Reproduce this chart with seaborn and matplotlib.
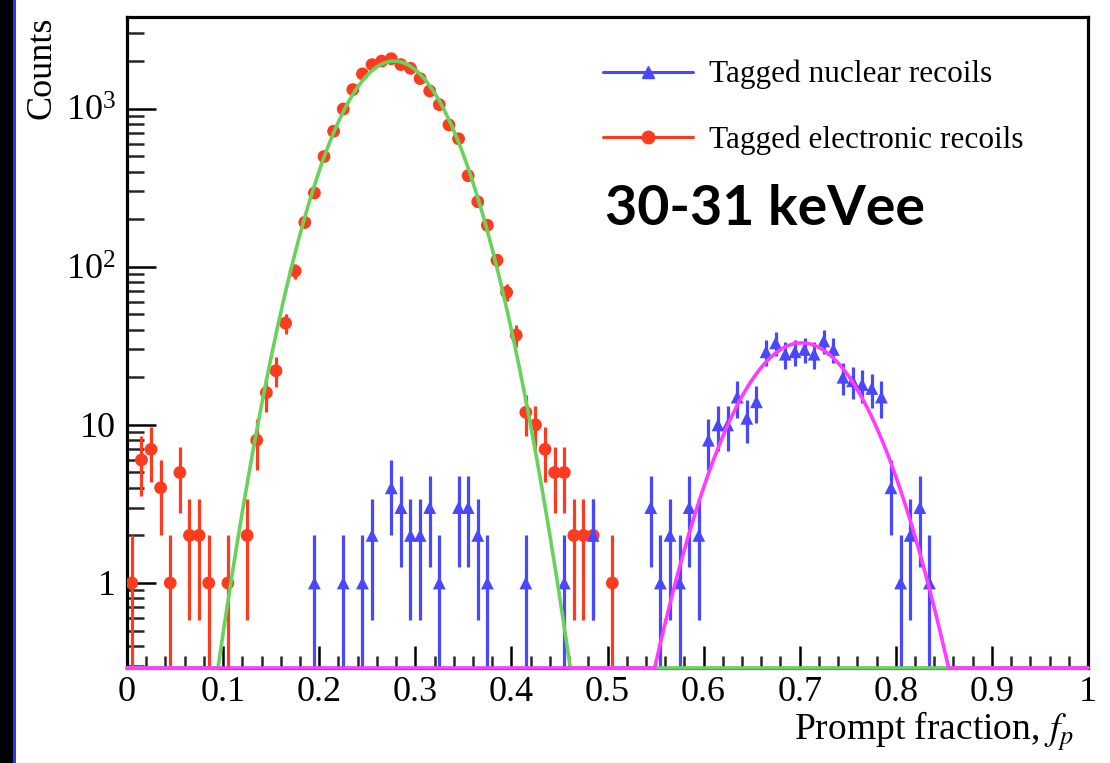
import numpy as np
import pandas as pd
import matplotlib
matplotlib.use("Agg")
import matplotlib.pyplot as plt
from matplotlib.lines import Line2D
from matplotlib.patches import Rectangle
from matplotlib.ticker import (FixedLocator, FixedFormatter, LogLocator,
                               NullFormatter, MultipleLocator)
import seaborn as sns

# Prompt-fraction histograms (bin width 0.01, empty bins left out)
er_fp = [0.005, 0.015, 0.025, 0.035, 0.045, 0.055, 0.065, 0.075, 0.085,
         0.105, 0.125, 0.135, 0.145, 0.155, 0.165, 0.175, 0.185, 0.195,
         0.205, 0.215, 0.225, 0.235, 0.245, 0.255, 0.265, 0.275, 0.285, 0.295,
         0.305, 0.315, 0.325, 0.335, 0.345, 0.355, 0.365, 0.375, 0.385, 0.395,
         0.405, 0.415, 0.425, 0.435, 0.445, 0.455, 0.465, 0.475, 0.485, 0.505]
er_counts = [1, 6, 7, 4, 1, 5, 2, 2, 1,
             1, 2, 8, 16, 22, 44, 94, 191, 293,
             498, 720, 995, 1320, 1660, 1900, 2000, 2070, 1900, 1800,
             1550, 1295, 1060, 790, 645, 377, 258, 183, 110, 69,
             37, 12, 10, 7, 5, 5, 2, 2, 2, 1]

nr_fp = [0.195, 0.225, 0.245, 0.255, 0.275, 0.285, 0.295, 0.305, 0.315,
         0.325, 0.345, 0.355, 0.365, 0.375, 0.415, 0.455, 0.485,
         0.545, 0.555, 0.565, 0.575, 0.585, 0.595, 0.605, 0.615, 0.625,
         0.635, 0.645, 0.655, 0.665, 0.675, 0.685, 0.695, 0.705, 0.715,
         0.725, 0.735, 0.745, 0.755, 0.765, 0.775, 0.785, 0.795, 0.805,
         0.815, 0.825, 0.835]
nr_counts = [1, 1, 1, 2, 4, 3, 2, 2, 3,
             1, 3, 3, 2, 1, 1, 1, 2,
             3, 1, 2, 1, 3, 2, 8, 10, 10,
             15, 11, 14, 29, 33, 28, 29, 30, 28,
             34, 30, 20, 19, 18, 17, 15, 4, 1,
             2, 3, 1]

# Gaussian fit results: (amplitude, mean, sigma)
er_fit = (2000.0, 0.278, 0.0436)
nr_fit = (33.0, 0.702, 0.0497)

x_ticks = [0.0, 0.1, 0.2, 0.3, 0.4, 0.5, 0.6, 0.7, 0.8, 0.9, 1.0]
x_tick_labels = ["0", "0.1", "0.2", "0.3", "0.4", "0.5", "0.6", "0.7",
                 "0.8", "0.9", "1"]
y_ticks = [1, 10, 100, 1000]
y_tick_labels = ["1", "10", r"$\mathregular{10^2}$", r"$\mathregular{10^3}$"]

legend_labels = ["Tagged nuclear recoils", "Tagged electronic recoils"]
energy_label = "30-31 keVee"

Y_MIN, Y_MAX = 0.29, 3800

RED = "#ff3b1f"
BLUE = "#4848ff"
GREEN = "#68d35c"
MAGENTA = "#ff3cff"

sns.set_theme(style="ticks")
plt.rcParams["font.family"] = ["Liberation Serif", "DejaVu Serif"]
plt.rcParams["mathtext.fontset"] = "stix"
plt.rcParams["text.color"] = "black"

fig = plt.figure(figsize=(11.1, 7.63), dpi=100)
W, H = 1110, 763
ax = fig.add_axes([127 / W, 95 / H, 961 / W, 651 / H])
ax.set_yscale("log")
ax.set_xlim(0, 1)
ax.set_ylim(Y_MIN, Y_MAX)


def gauss(x, a, mu, s):
    return a * np.exp(-0.5 * ((x - mu) / s) ** 2)


def draw_hist(fp, counts, color, marker, z):
    fp = np.asarray(fp, float)
    n = np.asarray(counts, float)
    err = np.sqrt(n)
    lo = np.maximum(n - err, Y_MIN)
    ax.vlines(fp, lo, n + err, colors=color, linewidth=2.3, zorder=z)
    sns.scatterplot(x=fp, y=n, ax=ax, color=color, marker=marker, s=85,
                    edgecolor="none", linewidth=0, zorder=z + 0.1,
                    legend=False)


draw_hist(er_fp, er_counts, RED, "o", 3)
draw_hist(nr_fp, nr_counts, BLUE, "^", 4)

# Fit curves, held at the frame floor where they fall below the y range
fp_grid = np.linspace(0.0, 1.0, 1201)
fits = pd.DataFrame({
    "fp": fp_grid,
    "er": np.clip(gauss(fp_grid, *er_fit), Y_MIN, None),
    "nr": np.clip(gauss(fp_grid, *nr_fit), Y_MIN, None),
})
sns.lineplot(data=fits, x="fp", y="er", ax=ax, color=GREEN, linewidth=2.6,
             zorder=5, clip_on=False)
sns.lineplot(data=fits, x="fp", y="nr", ax=ax, color=MAGENTA, linewidth=2.6,
             zorder=6, clip_on=False)

# Axes styling
ax.xaxis.set_major_locator(FixedLocator(x_ticks))
ax.xaxis.set_major_formatter(FixedFormatter(x_tick_labels))
ax.xaxis.set_minor_locator(MultipleLocator(0.02))
ax.yaxis.set_major_locator(FixedLocator(y_ticks))
ax.yaxis.set_major_formatter(FixedFormatter(y_tick_labels))
ax.yaxis.set_minor_locator(LogLocator(base=10, subs=np.arange(2, 10)))
ax.yaxis.set_minor_formatter(NullFormatter())

ax.tick_params(axis="x", which="major", direction="in", length=15.8,
               width=1.8, pad=6, labelsize=26, colors="black", top=False)
ax.tick_params(axis="x", which="minor", direction="in", length=8.6,
               width=1.8, top=False)
ax.tick_params(axis="y", which="major", direction="in", length=20.9,
               width=1.8, pad=8, labelsize=26, colors="black", right=False)
ax.tick_params(axis="y", which="minor", direction="in", length=12.2,
               width=1.8, right=False)
for sp in ax.spines.values():
    sp.set_visible(True)
    sp.set_linewidth(2.3)
    sp.set_color("black")

ax.set_xlabel(r"Prompt fraction, $f_{p}$", fontsize=27, color="black")
ax.xaxis.label.set(ha="right", va="top")
ax.xaxis.set_label_coords(0.985, -0.064)
ax.set_ylabel("Counts", fontsize=26, color="black")
ax.yaxis.label.set(ha="right", va="center")
ax.yaxis.set_label_coords(-0.088, 1.0)

handles = [
    Line2D([], [], color=BLUE, marker="^", markersize=9, linewidth=2.2),
    Line2D([], [], color=RED, marker="o", markersize=9, linewidth=2.2),
]
ax.legend(handles, legend_labels, loc="upper left",
          bbox_to_anchor=(0.495, 0.934), frameon=False, fontsize=22.5,
          handlelength=2.9, handletextpad=0.5, labelspacing=1.15,
          borderpad=0, borderaxespad=0, labelcolor="black")

ax.text(0.497, 0.681, energy_label, transform=ax.transAxes,
        fontfamily="Lato", fontweight="bold", fontsize=40, color="black",
        va="baseline", ha="left")

# Dark margin with a blue rule along the left edge of the figure
fig.patches.append(Rectangle((0, 0), 13 / W, 1, transform=fig.transFigure,
                             facecolor="black", edgecolor="none", zorder=0))
fig.patches.append(Rectangle((13 / W, 0), 3 / W, 1, transform=fig.transFigure,
                             facecolor="#1f3fff", edgecolor="none", zorder=0))

fig.savefig("out.png", dpi=100, facecolor="white")
